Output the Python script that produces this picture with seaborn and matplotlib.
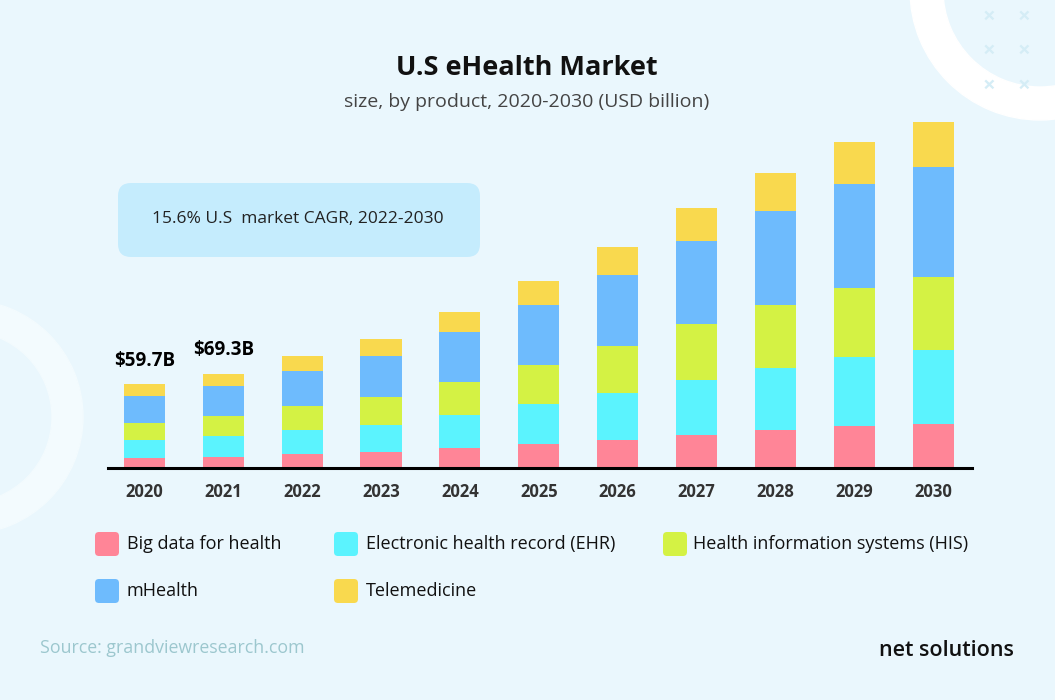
import numpy as np
import pandas as pd
import seaborn as sb
import matplotlib.pyplot as plt
from matplotlib.patches import FancyBboxPatch, Annulus

# valeurs (USD milliards)
years = ["2020", "2021", "2022", "2023", "2024", "2025", "2026", "2027", "2028", "2029", "2030"]
big_data = [6.7, 7.8, 9.8, 11.2, 14.1, 16.7, 20.1, 23.7, 27.1, 30.0, 31.9]
ehr = [13.1, 14.7, 17.4, 19.8, 23.9, 29.0, 34.1, 39.9, 45.4, 50.2, 53.2]
his = [12.8, 14.7, 17.2, 20.1, 24.1, 28.8, 34.1, 40.4, 45.2, 50.0, 53.1]
mhealth = [19.6, 22.0, 25.8, 29.9, 36.0, 43.3, 51.0, 59.9, 68.4, 75.2, 80.0]
telemed = [8.0, 8.9, 10.7, 12.1, 14.7, 17.6, 20.8, 24.4, 27.6, 30.7, 32.4]
series_names = ["Big data for health", "Electronic health record (EHR)",
                "Health information systems (HIS)", "mHealth", "Telemedicine"]
total_labels = ["$59.7B", "$69.3B"]

colors = ["#FF8597", "#5BF3FE", "#D4F244", "#6EBBFD", "#F9D94E"]
bg = "#EAF7FD"

data = pd.DataFrame({"year": years, series_names[0]: big_data, series_names[1]: ehr,
                     series_names[2]: his, series_names[3]: mhealth, series_names[4]: telemed})

sb.set_style("white")
plt.rcParams['font.family'] = ['Open Sans', 'DejaVu Sans']

W, H = 1055, 700
fig = plt.figure(figsize=(W / 100, H / 100), dpi=100, facecolor=bg)
tr = fig.dpi_scale_trans

def px(x, y):
    # pixels (origine en haut a gauche) -> pouces
    return x / 100, (H - y) / 100

# decor : anneaux blancs + croix
fig.patches.append(Annulus(px(1040, -10), 1.30, 0.33, transform=tr, color="white", zorder=-2))
fig.patches.append(Annulus(px(-34, 417), 1.17, 0.31, transform=tr, color="#F3FBFE", zorder=-2))
for cx in [989, 1024]:
    for cy in [17, 51, 86]:
        fig.text(*px(cx, cy), "×", transform=tr, ha="center", va="center", fontsize=16,
                 color="#D5EDF6", fontweight="bold", zorder=-1)

# axes : ligne de base y=467.5, x de 108 a 972
bottom_px, top_px, left_px, right_px = 467.5, 100, 108, 972
ax = fig.add_axes([left_px / W, (H - bottom_px) / H, (right_px - left_px) / W, (bottom_px - top_px) / H])
ax.set_facecolor("none")

bottoms = np.zeros(len(years))
for name, c in zip(series_names, colors):
    sb.barplot(data=data, x="year", y=name, bottom=bottoms, color=c, saturation=1,
               width=0.52, linewidth=0, ax=ax)
    bottoms = bottoms + data[name].values

ax.set_xlim(-0.46, 10.49)
ax.set_ylim(0, (bottom_px - top_px) * 0.725)
for s in ["top", "right", "left"]:
    ax.spines[s].set_visible(False)
ax.spines["bottom"].set_linewidth(2.2)
ax.spines["bottom"].set_color("black")
ax.set_yticks([])
ax.set_xlabel("")
ax.set_ylabel("")
ax.tick_params(axis="x", length=0, pad=11.5, labelsize=12, labelcolor="#333333")
for lab in ax.get_xticklabels():
    lab.set_fontweight("bold")

for i, t in enumerate(total_labels):
    ax.annotate(t, (i, bottoms[i]), xytext=(0, 10), textcoords="offset points",
                ha="center", va="bottom", fontsize=13.5, fontweight="bold", color="black")

# titre
fig.text(*px(527, 68), "U.S eHealth Market", transform=tr, ha="center", va="center",
         fontsize=19.5, fontweight="bold", color="#111111")
fig.text(*px(527, 102), "size, by product, 2020-2030 (USD billion)", transform=tr,
         ha="center", va="center", fontsize=14, color="#444444")

# encadre CAGR
x0, y0 = px(118, 257)
fig.patches.append(FancyBboxPatch((x0, y0), 3.62, 0.74, boxstyle="round,pad=0,rounding_size=0.13",
                                  transform=tr, facecolor="#C5ECFD", edgecolor="none", zorder=-1))
fig.text(*px(298, 219), "15.6% U.S  market CAGR, 2022-2030", transform=tr,
         ha="center", va="center", fontsize=12.5, color="#222222")

# legende manuelle
leg_pos = [(95, 127, 544), (334, 366, 544), (663, 693, 544), (95, 127, 591), (334, 366, 591)]
for (sx, tx, cy), name, c in zip(leg_pos, series_names, colors):
    bx, by = px(sx, cy + 12)
    fig.patches.append(FancyBboxPatch((bx, by), 0.24, 0.24, boxstyle="round,pad=0,rounding_size=0.04",
                                      transform=tr, facecolor=c, edgecolor="none"))
    fig.text(*px(tx, cy), name, transform=tr, ha="left", va="center", fontsize=13, color="#111111")

fig.text(*px(40, 648), "Source: grandviewresearch.com", transform=tr, ha="left", va="center",
         fontsize=12.8, color="#9CC7CE")
fig.text(*px(1014, 651), "net solutions", transform=tr, ha="right", va="center",
         fontsize=15.5, fontweight="semibold", color="#111111")

plt.savefig("out.png", dpi=100, facecolor=bg)
